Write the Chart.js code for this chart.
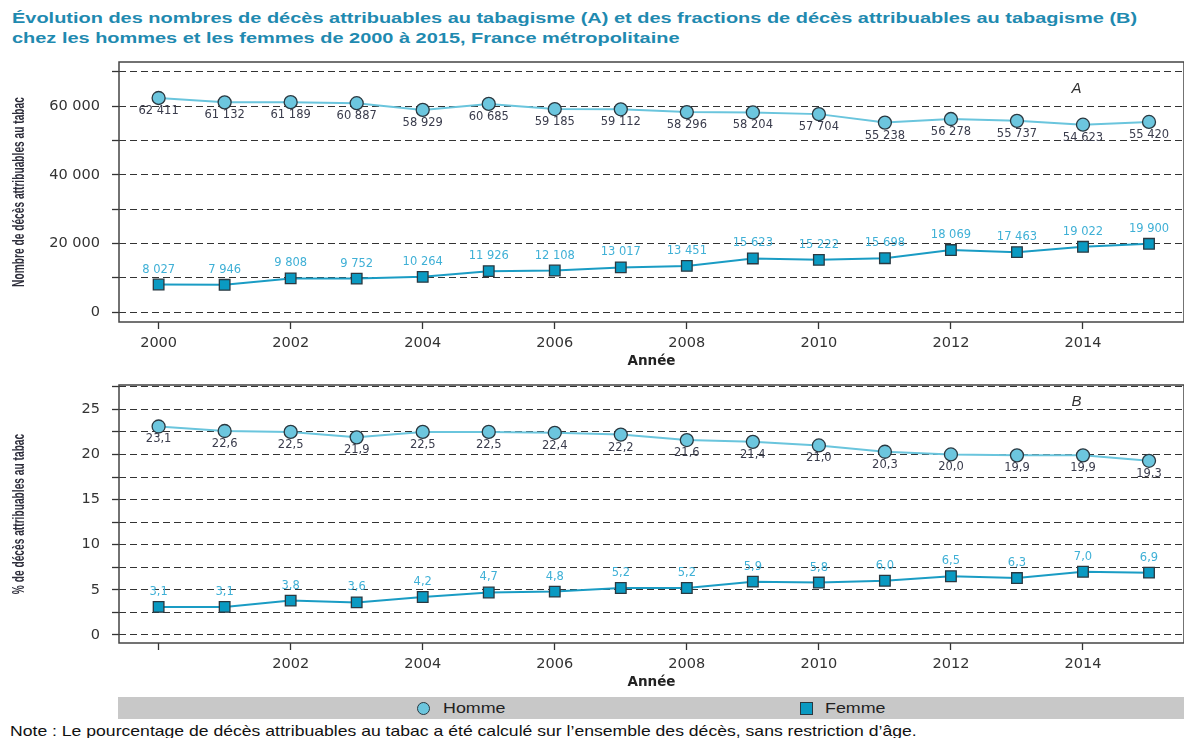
<!DOCTYPE html>
<html>
<head>
<meta charset="utf-8">
<script src="https://cdn.jsdelivr.net/npm/chart.js@4"></script>
<style>
  body { margin: 0; background: #fff; width: 1184px; height: 738px; overflow: hidden; position: relative; font-family: "Liberation Sans", Arial, sans-serif; }
  .title { position: absolute; left: 12px; top: 8px; font-weight: bold; font-size: 15.5px; line-height: 20px; color: #1f8ab0; white-space: nowrap; transform: scaleX(1.287); transform-origin: 0 0; }
  .panel { position: absolute; left: 0; width: 1184px; }
  .legend { position: absolute; left: 118px; top: 697px; width: 1066px; height: 22px; background: #c8c8c8; }
  .legend span { position: absolute; top: 2px; font-size: 15px; color: #222; transform: scaleX(1.19); transform-origin: 0 0; }
  .mk { position: absolute; box-sizing: border-box; border: 1.5px solid #2a3840; }
  .note { position: absolute; left: 10px; top: 722px; font-size: 15px; color: #111; white-space: nowrap; transform: scaleX(1.173); transform-origin: 0 0; }
</style>
</head>
<body>
<div class="title">Évolution des nombres de décès attribuables au tabagisme (A) et des fractions de décès attribuables au tabagisme (B)<br>chez les hommes et les femmes de 2000 à 2015, France métropolitaine</div>

<div class="panel" style="top:50px;height:322px"><canvas id="chartA"></canvas></div>
<div class="panel" style="top:373px;height:320px"><canvas id="chartB"></canvas></div>

<div class="legend">
  <div class="mk" style="left:299px;top:5px;width:13px;height:13px;border-radius:50%;background:#6cc6de"></div>
  <span style="left:325px">Homme</span>
  <div class="mk" style="left:682px;top:5px;width:13px;height:13px;background:#0a9ac2"></div>
  <span style="left:707px">Femme</span>
</div>
<div class="note">Note : Le pourcentage de décès attribuables au tabac a été calculé sur l’ensemble des décès, sans restriction d’âge.</div>

<script>
const years = [2000, 2001, 2002, 2003, 2004, 2005, 2006, 2007, 2008, 2009, 2010, 2011, 2012, 2013, 2014, 2015];

// A : nombre de décès attribuables au tabac
const hommeDeces = [62411, 61132, 61189, 60887, 58929, 60685, 59185, 59112, 58296, 58204, 57704, 55238, 56278, 55737, 54623, 55420];
const femmeDeces = [8027, 7946, 9808, 9752, 10264, 11926, 12108, 13017, 13451, 15623, 15222, 15698, 18069, 17463, 19022, 19900];

// B : % de décès attribuables au tabac
const hommePct = [23.1, 22.6, 22.5, 21.9, 22.5, 22.5, 22.4, 22.2, 21.6, 21.4, 21.0, 20.3, 20.0, 19.9, 19.9, 19.3];
const femmePct = [3.1, 3.1, 3.8, 3.6, 4.2, 4.7, 4.8, 5.2, 5.2, 5.9, 5.8, 6.0, 6.5, 6.3, 7.0, 6.9];

// graduations (une étiquette sur deux)
const ticksA = [0, 10000, 20000, 30000, 40000, 50000, 60000, 70000];
const labelsA = ['0', '', '20 000', '', '40 000', '', '60 000', ''];
const ticksB = [0, 2.5, 5, 7.5, 10, 12.5, 15, 17.5, 20, 22.5, 25, 27.5];
const labelsB = ['0', '', '5', '', '10', '', '15', '', '20', '', '25', ''];
const yearTicks = [2000, 2002, 2004, 2006, 2008, 2010, 2012, 2014];

const HOMME_FILL = '#6cc6de';
const HOMME_LINE = '#6ac5dd';
const FEMME_FILL = '#0a9ac2';
const FEMME_LINE = '#1a9cc4';
const EDGE = '#2a3840';
const FONT = '"Liberation Sans", Arial, sans-serif';
const WIDE = '"DejaVu Sans", "Liberation Sans", sans-serif';

const fmtInt = v => String(Math.round(v)).replace(/\B(?=(\d{3})+(?!\d))/g, ' ');
const fmtDec = v => v.toFixed(1).replace('.', ',');

const valueLabels = {
    id: 'valueLabels',
    afterDatasetsDraw(chart, args, opts) {
        const ctx = chart.ctx;
        ctx.save();
        ctx.font = '11.5px ' + WIDE;
        ctx.textAlign = 'center';
        ctx.textBaseline = 'middle';
        chart.data.datasets.forEach((ds, i) => {
            const meta = chart.getDatasetMeta(i);
            meta.data.forEach((pt, j) => {
                ctx.fillStyle = ds.labelColor;
                ctx.fillText(opts.format(ds.data[j].y), pt.x, pt.y + ds.labelOffset);
            });
        });
        ctx.restore();
    }
};

const frame = {
    id: 'frame',
    afterDraw(chart, args, opts) {
        const {ctx, chartArea: a, scales} = chart;
        ctx.save();
        ctx.strokeStyle = '#444';
        ctx.lineWidth = 1.5;
        ctx.strokeRect(a.left, a.top, a.right - a.left, a.bottom - a.top);
        // lettre du panneau
        ctx.font = 'italic 15px ' + FONT;
        ctx.fillStyle = '#333';
        ctx.textAlign = 'center';
        ctx.textBaseline = 'middle';
        ctx.fillText(opts.letter, scales.x.getPixelForValue(opts.at[0]), scales.y.getPixelForValue(opts.at[1]));
        // titre de l'axe y, police étroite
        ctx.translate(19, (a.top + a.bottom) / 2);
        ctx.rotate(-Math.PI / 2);
        ctx.scale(0.6, 1);
        ctx.font = 'bold 17px ' + FONT;
        ctx.fillStyle = '#2d2d3a';
        ctx.fillText(opts.yTitle, 0, 0);
        ctx.restore();
    }
};

function makePanel(id, homme, femme, o) {
    const pts = arr => arr.map((v, i) => ({x: years[i], y: v}));
    new Chart(document.getElementById(id), {
        type: 'line',
        data: {
            datasets: [
                {
                    label: 'Homme', data: pts(homme),
                    borderColor: HOMME_LINE, borderWidth: 2,
                    pointStyle: 'circle', pointRadius: 6.5, pointBackgroundColor: HOMME_FILL,
                    pointBorderColor: EDGE, pointBorderWidth: 1.3,
                    labelColor: '#3a3c4c', labelOffset: 13
                },
                {
                    label: 'Femme', data: pts(femme),
                    borderColor: FEMME_LINE, borderWidth: 2,
                    pointStyle: 'rect', pointRadius: 7.5, pointBackgroundColor: FEMME_FILL,
                    pointBorderColor: EDGE, pointBorderWidth: 1.3,
                    labelColor: '#3fb0d6', labelOffset: -15
                }
            ]
        },
        options: {
            responsive: true,
            maintainAspectRatio: false,
            animation: false,
            layout: {autoPadding: false, padding: {top: 12, left: 0, right: 0, bottom: 0}},
            plugins: {
                legend: {display: false},
                tooltip: {enabled: false},
                valueLabels: {format: o.format},
                frame: {letter: o.letter, at: o.letterAt, yTitle: o.yTitle}
            },
            scales: {
                x: {
                    type: 'linear', min: 1999.4, max: 2015.53,
                    afterFit: s => { s.height = 50; s.paddingLeft = 0; s.paddingRight = 0; },
                    afterBuildTicks: s => { s.ticks = yearTicks.map(v => ({value: v})); },
                    grid: {drawOnChartArea: false, drawTicks: true, tickLength: 7, tickColor: '#333', tickWidth: 1.3},
                    border: {display: false},
                    ticks: {
                        padding: 6, maxRotation: 0, autoSkip: false,
                        color: '#333', font: {family: WIDE, size: 14.5},
                        callback: v => (v === 2000 && !o.showFirstYear) ? '' : String(v)
                    },
                    title: {display: true, text: 'Année', color: '#222', font: {family: WIDE, size: 13.5, weight: 'bold'}, padding: {top: 0, bottom: 2}}
                },
                y: {
                    min: o.yMin, max: o.yMax,
                    afterFit: s => { s.width = 119; s.paddingTop = 0; s.paddingBottom = 0; },
                    afterBuildTicks: s => { s.ticks = o.ticks.map(v => ({value: v})); },
                    grid: {color: '#333', lineWidth: 1, drawTicks: true, tickLength: 7, tickColor: '#333', tickWidth: 1.3},
                    border: {display: false, dash: [7, 4]},
                    ticks: {
                        padding: 12, autoSkip: false,
                        color: '#333', font: {family: WIDE, size: 14.5},
                        callback: (v, i) => o.labels[i]
                    }
                }
            }
        },
        plugins: [valueLabels, frame]
    });
}

makePanel('chartA', hommeDeces, femmeDeces, {
    yMin: -2900, yMax: 72900, ticks: ticksA, labels: labelsA,
    format: fmtInt, showFirstYear: true,
    yTitle: 'Nombre de décès attribuables au tabac',
    letter: 'A', letterAt: [2013.9, 65000]
});

makePanel('chartB', hommePct, femmePct, {
    yMin: -0.9, yMax: 27.7, ticks: ticksB, labels: labelsB,
    format: fmtDec, showFirstYear: false,
    yTitle: '% de décès attribuables au tabac',
    letter: 'B', letterAt: [2013.9, 25.8]
});
</script>
</body>
</html>
